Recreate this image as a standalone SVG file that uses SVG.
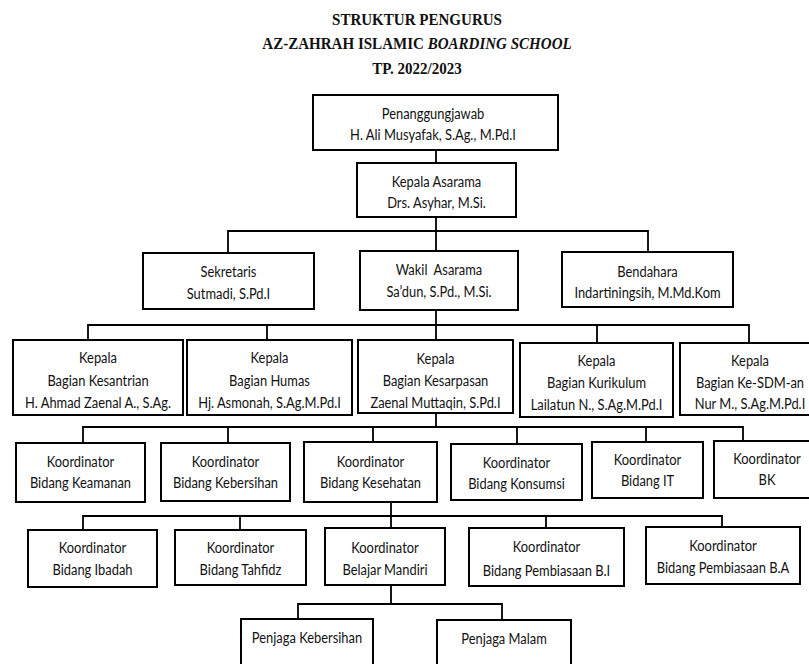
<svg xmlns="http://www.w3.org/2000/svg" width="809" height="664" viewBox="0 0 809 664">
<style>
.box{fill:#fff;stroke:#000;stroke-width:2}
.t{font-family:Lato,"Open Sans","Liberation Sans",sans-serif;font-size:15px;fill:#111;text-anchor:middle;transform-box:fill-box;transform-origin:center;transform:scaleX(0.86)}
.title{font-family:"Liberation Serif","Times New Roman",serif;font-weight:bold;font-size:16px;fill:#111;text-anchor:middle;transform-box:fill-box;transform-origin:center;transform:scaleX(0.94)}
.c{stroke:#000;stroke-width:1.8;fill:none}
</style>
<defs>
<clipPath id="ck1"><rect x="14" y="341" width="168" height="71"/></clipPath>
<clipPath id="ck2"><rect x="188" y="341" width="163" height="71"/></clipPath>
<clipPath id="ck3"><rect x="359" y="341" width="153" height="69"/></clipPath>
<clipPath id="ck4"><rect x="521" y="344" width="151" height="70"/></clipPath>
<clipPath id="ck5"><rect x="681" y="344" width="140" height="68"/></clipPath>
</defs>
<rect width="809" height="664" fill="#fff"/>
<g id="title">
<text class="title" x="417" y="25">STRUKTUR PENGURUS</text>
<text class="title" x="417" y="49">AZ-ZAHRAH ISLAMIC <tspan font-style="italic">BOARDING SCHOOL</tspan></text>
<text class="title" x="417" y="74">TP. 2022/2023</text>
</g>
<g id="connectors">
<path class="c" d="M436 150V163M436 217V251M228 253V231H648V252M436 310V340M88 340V325H749V343M267 325V340M597 325V343M436 413V427M83 443V427H743V441M228 427V443M373 427V442M517 427V444M646 427V442M391 502V516M83 530V516H722V527M240 516V530M391 516V528M546 516V528M391 585V604M298 619V604H502V620"/>
</g>
<g id="penanggungjawab"><rect class="box" x="313" y="95" width="245" height="55"/><text class="t" x="433" y="119">Penanggungjawab</text><text class="t" x="433" y="140">H. Ali Musyafak, S.Ag., M.Pd.I</text></g>
<g id="kepala-asarama"><rect class="box" x="357" y="163" width="159" height="54"/><text class="t" x="436.5" y="187">Kepala Asarama</text><text class="t" x="436.5" y="208">Drs. Asyhar, M.Si.</text></g>
<g id="sekretaris"><rect class="box" x="143" y="253" width="171" height="56"/><text class="t" x="228.5" y="277">Sekretaris</text><text class="t" x="228.5" y="299">Sutmadi, S.Pd.I</text></g>
<g id="wakil-asarama"><rect class="box" x="360" y="251" width="158" height="59"/><text class="t" x="439" y="275">Wakil&#160; Asarama</text><text class="t" x="439" y="297">Sa’dun, S.Pd., M.Si.</text></g>
<g id="bendahara"><rect class="box" x="562" y="252" width="171" height="55"/><text class="t" x="647.5" y="277">Bendahara</text><text class="t" x="647.5" y="298">Indartiningsih, M.Md.Kom</text></g>
<g id="kepala-kesantrian"><rect class="box" x="13" y="340" width="170" height="75"/><g clip-path="url(#ck1)"><text class="t" x="98" y="363">Kepala</text><text class="t" x="98" y="386">Bagian Kesantrian</text><text class="t" x="98" y="408">H. Ahmad Zaenal A., S.Ag.</text></g></g>
<g id="kepala-humas"><rect class="box" x="187" y="340" width="165" height="75"/><g clip-path="url(#ck2)"><text class="t" x="269.5" y="363">Kepala</text><text class="t" x="269.5" y="386">Bagian Humas</text><text class="t" x="269.5" y="408">Hj. Asmonah, S.Ag.M.Pd.I</text></g></g>
<g id="kepala-kesarpasan"><rect class="box" x="358" y="340" width="155" height="73"/><g clip-path="url(#ck3)"><text class="t" x="435.5" y="364">Kepala</text><text class="t" x="435.5" y="386">Bagian Kesarpasan</text><text class="t" x="435.5" y="408">Zaenal Muttaqin, S.Pd.I</text></g></g>
<g id="kepala-kurikulum"><rect class="box" x="520" y="343" width="153" height="74"/><g clip-path="url(#ck4)"><text class="t" x="596.5" y="366">Kepala</text><text class="t" x="596.5" y="388">Bagian Kurikulum</text><text class="t" x="596.5" y="410">Lailatun N., S.Ag.M.Pd.I</text></g></g>
<g id="kepala-sdm"><rect class="box" x="680" y="343" width="142" height="72"/><g clip-path="url(#ck5)"><text class="t" x="750" y="366">Kepala</text><text class="t" x="750" y="388">Bagian Ke-SDM-an</text><text class="t" x="750" y="409">Nur M., S.Ag.M.Pd.I</text></g></g>
<g id="koord-keamanan"><rect class="box" x="16" y="443" width="129" height="59"/><text class="t" x="80.5" y="467">Koordinator</text><text class="t" x="80.5" y="488">Bidang Keamanan</text></g>
<g id="koord-kebersihan"><rect class="box" x="161" y="443" width="129" height="58"/><text class="t" x="225.5" y="467">Koordinator</text><text class="t" x="225.5" y="488">Bidang Kebersihan</text></g>
<g id="koord-kesehatan"><rect class="box" x="304" y="442" width="133" height="60"/><text class="t" x="370.5" y="467">Koordinator</text><text class="t" x="370.5" y="488">Bidang Kesehatan</text></g>
<g id="koord-konsumsi"><rect class="box" x="451" y="444" width="131" height="56"/><text class="t" x="516.5" y="468">Koordinator</text><text class="t" x="516.5" y="489">Bidang Konsumsi</text></g>
<g id="koord-it"><rect class="box" x="592" y="442" width="111" height="56"/><text class="t" x="647.5" y="465">Koordinator</text><text class="t" x="647.5" y="486">Bidang IT</text></g>
<g id="koord-bk"><rect class="box" x="714" y="441" width="106" height="57"/><text class="t" x="767" y="464">Koordinator</text><text class="t" x="767" y="485">BK</text></g>
<g id="koord-ibadah"><rect class="box" x="28" y="530" width="129" height="57"/><text class="t" x="92.5" y="553">Koordinator</text><text class="t" x="92.5" y="575">Bidang Ibadah</text></g>
<g id="koord-tahfidz"><rect class="box" x="175" y="530" width="131" height="55"/><text class="t" x="240.5" y="553">Koordinator</text><text class="t" x="240.5" y="575">Bidang Tahfidz</text></g>
<g id="koord-belajar-mandiri"><rect class="box" x="325" y="528" width="120" height="57"/><text class="t" x="385" y="553">Koordinator</text><text class="t" x="385" y="575">Belajar Mandiri</text></g>
<g id="koord-pembiasaan-bi"><rect class="box" x="469" y="528" width="155" height="58"/><text class="t" x="546.5" y="552">Koordinator</text><text class="t" x="546.5" y="576">Bidang Pembiasaan B.I</text></g>
<g id="koord-pembiasaan-ba"><rect class="box" x="646" y="527" width="154" height="57"/><text class="t" x="723" y="551">Koordinator</text><text class="t" x="723" y="573">Bidang Pembiasaan B.A</text></g>
<g id="penjaga-kebersihan"><rect class="box" x="241" y="619" width="132" height="60"/><text class="t" x="307" y="643">Penjaga Kebersihan</text></g>
<g id="penjaga-malam"><rect class="box" x="437" y="620" width="134" height="60"/><text class="t" x="504" y="644">Penjaga Malam</text></g>
</svg>
